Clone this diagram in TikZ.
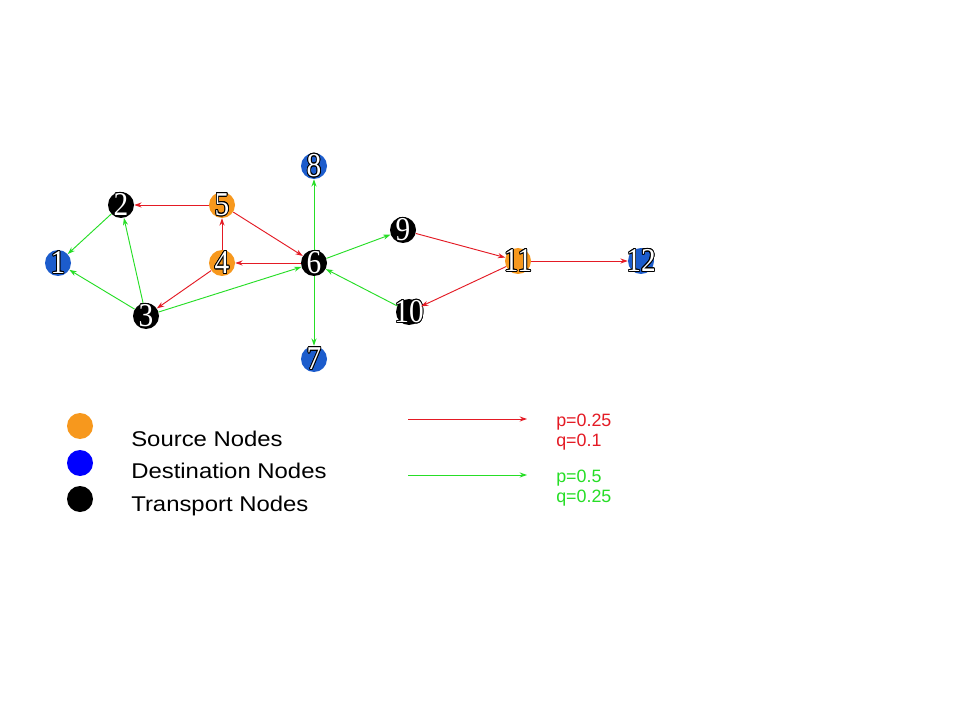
\documentclass[tikz,border=0pt]{standalone}
\usepackage{fontspec}
\setmainfont{Liberation Sans}
\newfontfamily\numfont{Liberation Serif}
\usepackage{contour}
\contourlength{0.7pt}
\usetikzlibrary{arrows.meta}

\definecolor{srcorange}{RGB}{247,152,29}
\definecolor{dstblue}{RGB}{28,92,204}
\definecolor{legblue}{RGB}{0,0,255}
\definecolor{slowred}{RGB}{228,26,36}
\definecolor{fastgreen}{RGB}{38,222,38}

\newcommand{\nodenum}[1]{\scalebox{0.88}[1]{\fontsize{25}{25}\selectfont\numfont\contour{black}{\textcolor{white}{#1}}}}

\begin{document}
\begin{tikzpicture}[x=0.75pt,y=-0.75pt,>={Stealth[length=5.5pt,width=3.8pt]},
    vertex/.style={circle,minimum size=19.5pt,inner sep=0pt,label={center:\nodenum{#1}}},
    source/.style={vertex=#1,fill=srcorange},
    dest/.style={vertex=#1,fill=dstblue},
    transport/.style={vertex=#1,fill=black},
    slow/.style={draw=slowred,line width=0.7pt},
    fast/.style={draw=fastgreen,line width=0.7pt},
    keydot/.style={circle,minimum size=19.5pt,inner sep=0pt},
    keytext/.style={anchor=base west,inner sep=0pt,font=\fontsize{16}{18}\selectfont,xscale=1.12},
    ratetext/.style={anchor=base west,inner sep=0pt,font=\fontsize{13.4}{15}\selectfont}]
    \fill[white] (0,0) rectangle (960,720);
    \useasboundingbox (0,0) rectangle (960,720);

    % network
    \node[dest=1]       (n1)  at (58,263)  {};
    \node[transport=2]  (n2)  at (121,205) {};
    \node[transport=3]  (n3)  at (146,316) {};
    \node[source=4]     (n4)  at (222,263) {};
    \node[source=5]     (n5)  at (222,205) {};
    \node[transport=6]  (n6)  at (314,263) {};
    \node[dest=7]       (n7)  at (314,359) {};
    \node[dest=8]       (n8)  at (314,166) {};
    \node[transport=9]  (n9)  at (403,230) {};
    \node[transport=10] (n10) at (409,312) {};
    \node[source=11]    (n11) at (518,261) {};
    \node[dest=12]      (n12) at (641,261) {};

    \path[->]
    (n2)  edge [fast] (n1)
    (n3)  edge [fast] (n1)
    (n3)  edge [fast] (n2)
    (n5)  edge [slow] (n2)
    (n4)  edge [slow] (n5)
    (n5)  edge [slow] (n6)
    (n6)  edge [slow] (n4)
    (n4)  edge [slow] (n3)
    (n3)  edge [fast] (n6)
    (n6)  edge [fast] (n8)
    (n6)  edge [fast] (n7)
    (n6)  edge [fast] (n9)
    (n10) edge [fast] (n6)
    (n9)  edge [slow] (n11)
    (n11) edge [slow] (n10)
    (n11) edge [slow] (n12)
    ;

    % legend
    \node[keydot,fill=srcorange] (ksrc) at (80,426) {};
    \node[keydot,fill=legblue]   (kdst) at (80,463) {};
    \node[keydot,fill=black]     (ktrn) at (80,499) {};
    \node[keytext] (lsrc) at (131,446) {Source Nodes};
    \node[keytext] (ldst) at (131,478) {Destination Nodes};
    \node[keytext] (ltrn) at (131,511) {Transport Nodes};

    \coordinate (slowa) at (408,419);
    \coordinate (slowb) at (527,419);
    \coordinate (fasta) at (408,475);
    \coordinate (fastb) at (527,475);
    \draw[->,slow] (slowa) -- (slowb);
    \draw[->,fast] (fasta) -- (fastb);
    \node[ratetext,text=slowred]   (pslow) at (556,426) {p=0.25};
    \node[ratetext,text=slowred]   (qslow) at (556,446) {q=0.1};
    \node[ratetext,text=fastgreen] (pfast) at (556,482) {p=0.5};
    \node[ratetext,text=fastgreen] (qfast) at (556,502) {q=0.25};
\end{tikzpicture}
\end{document}
